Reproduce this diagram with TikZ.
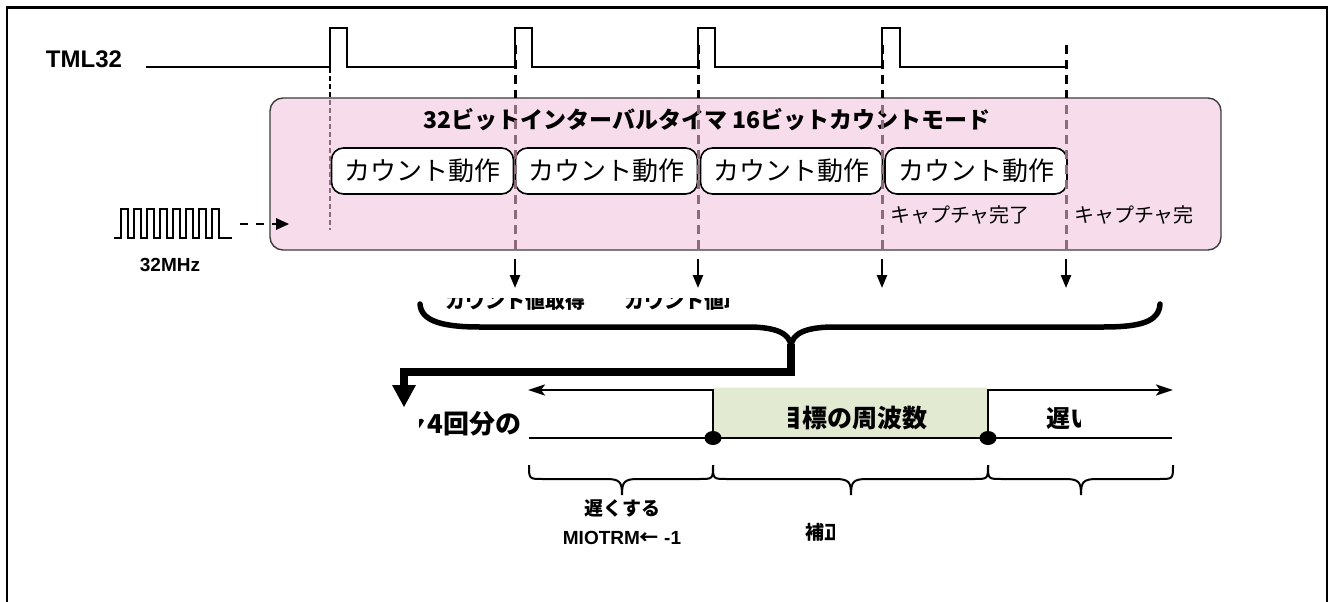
\documentclass[tikz,border=0pt]{standalone}
\usepackage{fontspec}
\setmainfont{Liberation Sans}
\newfontfamily\jp{Noto Sans CJK JP}
\usetikzlibrary{arrows.meta}
\definecolor{pinkf}{RGB}{247,221,236}
\definecolor{mauve}{RGB}{140,108,124}
\definecolor{greenf}{RGB}{226,235,210}
\definecolor{edgegray}{RGB}{60,60,60}
\tikzset{
  wave/.style={line width=2pt, line join=miter},
  thickdash/.style={line width=3pt, dash pattern=on 9pt off 6pt},
  thindash/.style={line width=1.6pt, dash pattern=on 5pt off 3pt},
  countbox/.style={draw=black, line width=1.6pt, fill=white, rounded corners=12pt,
    minimum width=182pt, minimum height=46pt, inner sep=0pt,
    font=\jp\fontsize{26}{30}\selectfont},
  txt/.style={inner sep=0pt, outer sep=0pt},
  downarrow/.style={line width=2.4pt, -{Triangle[length=13pt,width=10pt]}},
  thinbrace/.style={line width=2pt},
  bigbrace/.style={line width=5.5pt, line cap=round},
  posarrow/.style={line width=2.5pt, -{Stealth[length=17pt,width=11pt,inset=4pt]}},
}
\begin{document}
\begin{tikzpicture}[x=1pt,y=-1pt]
\useasboundingbox (0,0) rectangle (1330,602);
% frame
\draw[line width=2.5pt] (7,604) -- (7,7.5) -- (1327,7.5) -- (1327,604);

% TML32
\node[txt, font=\bfseries\fontsize{24}{28}\selectfont] (tml) at (84,59) {TML32};
\draw[wave] (146,67) -- (330,67) -- (330,28) -- (347,28) -- (347,67)
  -- (515,67) -- (515,28) -- (532,28) -- (532,67)
  -- (698,67) -- (698,28) -- (715,28) -- (715,67)
  -- (882,67) -- (882,28) -- (900,28) -- (900,67) -- (1066,67);

% pink box
\node[draw=edgegray, line width=1.4pt, fill=pinkf, rounded corners=13pt,
  minimum width=951pt, minimum height=152pt, inner sep=0pt] (mode) at (745.5,174) {};
\node[txt, font=\jp\bfseries\fontsize{23}{27}\selectfont] (title) at (707,120)
  {32ビットインターバルタイマ 16ビットカウントモード};

% count boxes
\node[countbox] (c1) at (422.5,171) {カウント動作};
\node[countbox] (c2) at (606.5,171) {カウント動作};
\node[countbox] (c3) at (791.5,171) {カウント動作};
\node[countbox] (c4) at (976,171) {カウント動作};

\node[txt, anchor=west, font=\jp\fontsize{20}{24}\selectfont] (cap1) at (890,215) {キャプチャ完了};
\begin{scope}
  \clip (1060,195) rectangle (1193,240);
  \node[txt, anchor=west, font=\jp\fontsize{20}{24}\selectfont] (cap2) at (1074,215) {キャプチャ完了};
\end{scope}

% dashed timing lines: black outside box, mauve inside
\begin{scope}
  \clip (0,0) rectangle (1330,98);
  \foreach \x in {515,698,882,1066} \draw[thickdash] (\x,45) -- (\x,251);
  \draw[thindash] (330,68) -- (330,230);
\end{scope}
\begin{scope}
  \clip (0,98) rectangle (1330,251);
  \foreach \x in {515,698,882,1066} \draw[thickdash, mauve] (\x,45) -- (\x,251);
  \draw[thindash, mauve] (330,68) -- (330,230);
\end{scope}

% down arrows
\foreach \x/\n in {515/a1,698/a2,882/a3,1066/a4}{
  \coordinate (\n s) at (\x,259);
  \coordinate (\n e) at (\x,288);
  \draw[downarrow] (\n s) -- (\n e);
}

% clock
\draw[wave] (114,238) -- (121,238)
  \foreach \k in {0,...,7}{ -- ++(0,-29) -- ++(6.5,0) -- ++(0,29) -- ++(6.5,0)} -- (232,238);
\node[txt, font=\bfseries\fontsize{19}{22}\selectfont] (mhz) at (170,265) {32MHz};
\coordinate (clkout) at (240,224);
\coordinate (clkin) at (289,224);
\draw[line width=2pt, dash pattern=on 8pt off 8pt] (clkout) -- (276,224);
\fill (276,218) -- (clkin) -- (276,230) -- cycle;

% clipped texts under arrows
\begin{scope}
  \clip (400,298) rectangle (728,325);
  \node[txt, anchor=west, font=\jp\bfseries\fontsize{20}{24}\selectfont] (get1) at (445,301) {カウント値取得};
  \node[txt, anchor=west, font=\jp\bfseries\fontsize{20}{24}\selectfont] (get2) at (624,301) {カウント値取得};
\end{scope}

% big brace
\draw[bigbrace] (420,304) .. controls (421,322) and (445,327) .. (480,327) -- (748,327)
  .. controls (775,327) and (790,333) .. (791,346)
  .. controls (792,333) and (807,327) .. (834,327) -- (1103,327)
  .. controls (1140,327) and (1159,322) .. (1160,304);
\coordinate (bcusp) at (791,344);
\coordinate (bcorner) at (791,372);
\coordinate (bleft) at (404,372);
\coordinate (bdown) at (404,388);
\draw[line width=8pt, line join=miter] (bcusp) -- (bcorner) -- (bleft) -- (bdown);
\fill (392,385) -- (416,385) -- (404,407) -- cycle;

% lower section
\node[fill=greenf, rounded corners=3pt, minimum width=275pt, minimum height=51pt,
  inner sep=0pt] (target) at (850.5,413) {};
\begin{scope}
  \clip (788,395) rectangle (990,436);
  \node[txt, font=\jp\bfseries\fontsize{25}{29}\selectfont] (targett) at (852,418) {目標の周波数};
\end{scope}
\coordinate (p1) at (713,438);
\coordinate (p2) at (988,438);
\coordinate (lend) at (528,390);
\coordinate (rend) at (1173,390);
\draw[posarrow] (p1) -- (713,390) -- (lend);
\draw[posarrow] (p2) -- (988,390) -- (rend);
\draw[line width=2.5pt] (529,438) -- (1172,438);
\fill (p1) ellipse [x radius=8.5pt, y radius=7pt];
\fill (p2) ellipse [x radius=8.5pt, y radius=7pt];

\begin{scope}
  \clip (419,400) rectangle (525,445);
  \node[txt, anchor=east, font=\jp\bfseries\fontsize{26}{30}\selectfont] (four) at (521,424) {キャプチャ4回分の};
\end{scope}
\begin{scope}
  \clip (1040,400) rectangle (1080,440);
  \node[txt, anchor=west, font=\jp\bfseries\fontsize{24}{28}\selectfont] (slow) at (1046,419) {遅い};
\end{scope}

% lower braces
\foreach \xa/\xm/\xb in {529/622/713, 713/851/988, 988/1081/1173}{
  \draw[thinbrace] (\xa,465) .. controls (\xa,479) and (\xa,479) .. (\xa+14,479) -- (\xm-16,479)
    .. controls (\xm-2,479) and (\xm,482) .. (\xm,495)
    .. controls (\xm,482) and (\xm+2,479) .. (\xm+16,479) -- (\xb-14,479)
    .. controls (\xb,479) and (\xb,479) .. (\xb,465);
}
\node[txt, font=\jp\bfseries\fontsize{19}{22}\selectfont] (slower) at (622,508) {遅くする};
\node[txt, font=\bfseries\fontsize{19}{22}\selectfont] (miot) at (622,538) {MIOTRM{\jp ←} -1};
\begin{scope}
  \clip (800,515) rectangle (834,550);
  \node[txt, anchor=west, font=\jp\bfseries\fontsize{19}{22}\selectfont] (hosei) at (805,532) {補正};
\end{scope}
\end{tikzpicture}
\end{document}
